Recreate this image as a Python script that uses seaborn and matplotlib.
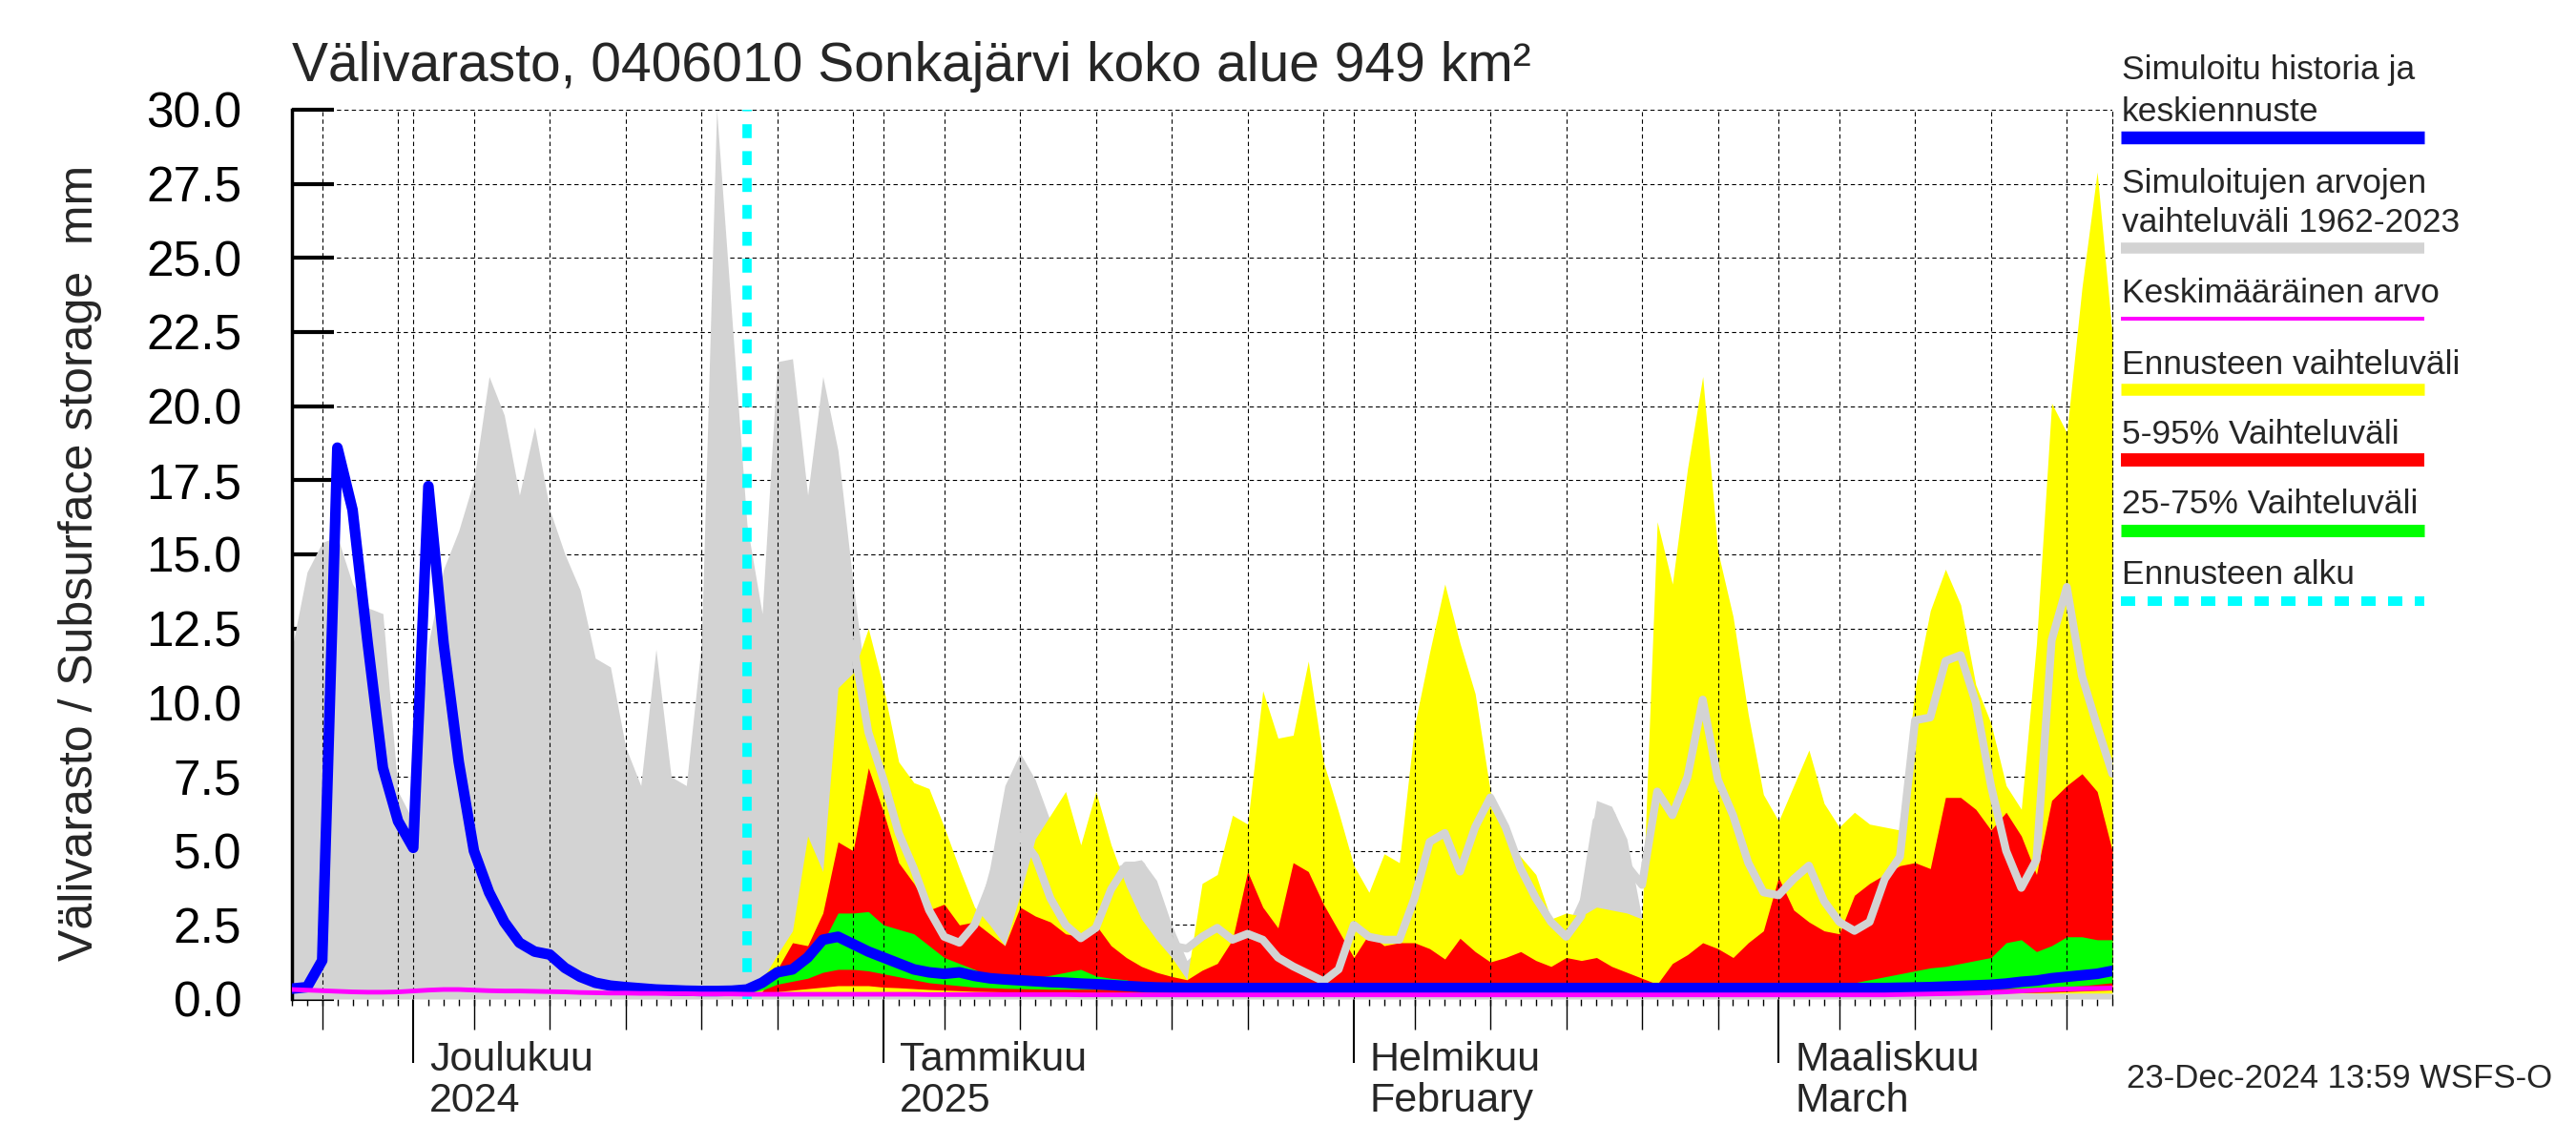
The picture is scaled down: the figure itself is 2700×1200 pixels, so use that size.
import matplotlib
matplotlib.use("Agg")
import matplotlib.pyplot as plt
import matplotlib.dates as mdates
import matplotlib.transforms as mtransforms
from matplotlib.lines import Line2D
from matplotlib.ticker import NullLocator
import numpy as np
import pandas as pd
import seaborn as sns

# daily values, 23.11.2024 - 23.3.2025
days = pd.date_range("2024-11-23", "2025-03-23", freq="D")
fc_days = days[30:]      # forecast part from 23.12.
gl_days = days[37:]

hist_max = [11.8, 14.4, 15.4, 15.6, 14.0, 13.2, 13.0, 7.0, 6.0, 12.0,
            14.5, 15.8, 17.5, 21.0, 19.7, 17.0, 19.3, 16.5, 15.0, 13.8,
            11.5, 11.2, 8.5, 7.2, 11.8, 7.5, 7.2, 12.0, 30.0, 23.0,
            16.0, 13.0, 21.5, 21.6, 17.0, 21.0, 18.5, 14.0, 10.0, 6.0,
            4.5, 3.5, 3.0, 2.5, 2.3, 2.5, 4.4, 7.2, 8.3, 7.4,
            6.0, 4.5, 3.5, 3.0, 4.4, 4.6, 4.7, 4.0, 2.5, 1.3,
            1.8, 2.0, 2.0, 2.2, 2.0, 1.8, 1.6, 1.5, 1.4, 1.3,
            1.3, 1.4, 1.5, 1.8, 2.2, 2.6, 3.0, 4.0, 6.0, 6.8,
            6.0, 4.5, 3.5, 2.6, 2.4, 3.5, 6.7, 6.5, 5.4, 2.7,
            2.5, 2.6, 2.8, 3.0, 3.2, 3.0, 2.8, 2.6, 2.5, 2.5,
            2.6, 2.5, 2.4, 2.4, 2.5, 2.6, 2.8, 3.0, 3.2, 3.4,
            3.5, 3.4, 3.2, 3.0, 3.0, 3.2, 3.5, 3.8, 4.0, 4.0, 3.8]
hist_min = 0.0

sim_median = [0.35, 0.4, 1.3, 18.6, 16.5, 12.0, 7.8, 6.0, 5.1, 17.3,
              12.0, 8.0, 5.0, 3.6, 2.6, 1.9, 1.6, 1.5, 1.05, 0.75,
              0.55, 0.45, 0.4, 0.36, 0.32, 0.3, 0.28, 0.27, 0.27, 0.28,
              0.32, 0.55, 0.9, 1.0, 1.4, 2.0, 2.1, 1.85, 1.6, 1.4,
              1.2, 1.0, 0.9, 0.85, 0.9, 0.78, 0.7, 0.66, 0.63, 0.6,
              0.57, 0.55, 0.52, 0.5, 0.47, 0.44, 0.41, 0.39, 0.38, 0.37,
              0.37, 0.37, 0.37, 0.37, 0.37, 0.37, 0.37, 0.37, 0.37, 0.37,
              0.37, 0.37, 0.37, 0.37, 0.37, 0.37, 0.37, 0.37, 0.37, 0.37,
              0.37, 0.37, 0.37, 0.37, 0.37, 0.37, 0.37, 0.37, 0.37, 0.37,
              0.37, 0.37, 0.37, 0.37, 0.37, 0.37, 0.37, 0.37, 0.37, 0.37,
              0.37, 0.37, 0.37, 0.37, 0.37, 0.37, 0.38, 0.39, 0.4, 0.42,
              0.44, 0.46, 0.48, 0.52, 0.58, 0.62, 0.7, 0.75, 0.8, 0.85, 0.95]

mean_value = [0.32, 0.3, 0.28, 0.26, 0.24, 0.23, 0.23, 0.24, 0.27, 0.3,
              0.32, 0.32, 0.3, 0.28, 0.27, 0.27, 0.26, 0.25, 0.24, 0.22,
              0.21, 0.2, 0.2, 0.19, 0.19, 0.18, 0.18, 0.17, 0.17, 0.17,
              0.16, 0.16, 0.16, 0.16, 0.16, 0.16, 0.16, 0.16, 0.16, 0.16,
              0.16, 0.16, 0.15, 0.15, 0.15, 0.15, 0.15, 0.15, 0.15, 0.15,
              0.15, 0.15, 0.14, 0.14, 0.14, 0.14, 0.14, 0.14, 0.14, 0.14,
              0.14, 0.14, 0.14, 0.14, 0.14, 0.14, 0.14, 0.14, 0.14, 0.14,
              0.14, 0.14, 0.14, 0.14, 0.14, 0.14, 0.14, 0.14, 0.14, 0.14,
              0.14, 0.14, 0.14, 0.14, 0.14, 0.14, 0.14, 0.14, 0.14, 0.14,
              0.14, 0.14, 0.14, 0.14, 0.14, 0.14, 0.14, 0.14, 0.14, 0.14,
              0.14, 0.14, 0.14, 0.14, 0.14, 0.14, 0.15, 0.16, 0.17, 0.18,
              0.19, 0.2, 0.22, 0.24, 0.27, 0.3, 0.32, 0.34, 0.35, 0.36, 0.37]

ens_max = [0.2, 0.65, 1.5, 2.3, 5.5, 4.3, 10.5, 11.0, 12.5, 10.5,
           8.0, 7.3, 7.1, 5.8, 4.4, 3.1, 2.5, 1.8, 3.5, 5.4,
           6.2, 7.0, 5.2, 7.0, 5.2, 3.8, 2.7, 2.0, 1.4, 0.65,
           3.9, 4.2, 6.2, 5.9, 10.4, 8.8, 8.9, 11.4, 8.0, 6.3,
           4.5, 3.6, 4.9, 4.6, 9.2, 11.7, 14.0, 12.0, 10.3, 7.0,
           5.5, 4.8, 4.2, 2.7, 2.9, 2.8, 3.1, 3.0, 2.9, 2.7,
           16.1, 14.0, 17.9, 21.0, 15.1, 12.9, 9.6, 6.9, 6.0, 7.2,
           8.4, 6.6, 5.8, 6.3, 5.9, 5.8, 5.7, 10.5, 13.1, 14.5,
           13.3, 10.6, 9.3, 7.2, 6.4, 12.0, 20.1, 19.1, 24.0, 27.9, 22.4]
ens_min = 0.2

p95 = [0.1, 0.25, 1.0, 1.9, 1.8, 2.9, 5.3, 5.0, 7.8, 6.3,
       4.6, 3.9, 3.0, 3.2, 2.5, 2.6, 2.2, 1.8, 3.1, 2.8,
       2.6, 2.2, 2.1, 2.5, 1.8, 1.4, 1.1, 0.9, 0.76, 0.65,
       0.97, 1.2, 2.0, 4.3, 3.1, 2.4, 4.6, 4.3, 3.2, 2.3,
       1.4, 2.2, 1.8, 1.9, 1.9, 1.7, 1.35, 2.05, 1.6, 1.25,
       1.4, 1.6, 1.3, 1.1, 1.4, 1.3, 1.4, 1.1, 0.9, 0.7,
       0.5, 1.2, 1.5, 1.9, 1.7, 1.4, 1.9, 2.3, 4.1, 3.0,
       2.6, 2.3, 2.2, 3.5, 3.9, 4.2, 4.5, 4.6, 4.4, 6.8,
       6.8, 6.4, 5.7, 6.3, 5.5, 4.2, 6.7, 7.2, 7.6, 7.0, 5.0]

p5 = [0.15, 0.2, 0.25, 0.3, 0.35, 0.4, 0.45, 0.45, 0.45, 0.4,
      0.38, 0.35, 0.32, 0.3, 0.28, 0.26, 0.25, 0.24, 0.23, 0.22,
      0.22, 0.22, 0.22, 0.22, 0.22, 0.22, 0.22, 0.22, 0.22, 0.22,
      0.22, 0.22, 0.22, 0.22, 0.22, 0.22, 0.22, 0.22, 0.22, 0.22,
      0.22, 0.22, 0.22, 0.22, 0.22, 0.22, 0.22, 0.22, 0.22, 0.22,
      0.22, 0.22, 0.22, 0.22, 0.22, 0.22, 0.22, 0.22, 0.22, 0.22,
      0.22, 0.22, 0.22, 0.22, 0.22, 0.22, 0.22, 0.22, 0.22, 0.22,
      0.22, 0.22, 0.22, 0.22, 0.22, 0.22, 0.22, 0.22, 0.22, 0.22,
      0.22, 0.22, 0.22, 0.22, 0.22, 0.22, 0.23, 0.25, 0.27, 0.29, 0.3]

p75 = [0.33, 0.6, 1.05, 1.15, 1.4, 1.9, 2.9, 2.9, 2.95, 2.5,
       2.35, 2.2, 1.8, 1.4, 1.2, 1.0, 0.76, 0.7, 0.65, 0.72,
       0.8, 0.9, 1.0, 0.78, 0.7, 0.65, 0.5, 0.45, 0.42, 0.41,
       0.41, 0.41, 0.41, 0.41, 0.41, 0.41, 0.41, 0.41, 0.41, 0.41,
       0.41, 0.41, 0.41, 0.41, 0.41, 0.41, 0.41, 0.41, 0.41, 0.41,
       0.42, 0.42, 0.42, 0.42, 0.42, 0.42, 0.42, 0.42, 0.42, 0.42,
       0.42, 0.42, 0.43, 0.43, 0.44, 0.45, 0.5, 0.55, 0.55, 0.5,
       0.48, 0.47, 0.5, 0.55, 0.65, 0.75, 0.85, 0.95, 1.05, 1.1,
       1.2, 1.3, 1.4, 1.9, 2.0, 1.6, 1.8, 2.1, 2.1, 2.0, 2.0]

p25 = [0.2, 0.3, 0.5, 0.6, 0.7, 0.9, 1.0, 1.0, 0.95, 0.85,
       0.75, 0.65, 0.55, 0.5, 0.45, 0.4, 0.38, 0.36, 0.35, 0.34,
       0.33, 0.33, 0.33, 0.33, 0.33, 0.33, 0.33, 0.33, 0.33, 0.33,
       0.33, 0.33, 0.33, 0.33, 0.33, 0.33, 0.33, 0.33, 0.33, 0.33,
       0.33, 0.33, 0.33, 0.33, 0.33, 0.33, 0.33, 0.33, 0.33, 0.33,
       0.33, 0.33, 0.33, 0.33, 0.33, 0.33, 0.33, 0.33, 0.33, 0.33,
       0.33, 0.33, 0.33, 0.33, 0.33, 0.33, 0.33, 0.33, 0.33, 0.33,
       0.33, 0.33, 0.33, 0.33, 0.33, 0.33, 0.33, 0.33, 0.33, 0.33,
       0.33, 0.33, 0.34, 0.35, 0.36, 0.38, 0.4, 0.42, 0.45, 0.5, 0.55]

gray_line = [12.0, 9.0, 7.4,
             5.6, 4.4, 3.0, 2.1, 1.9, 2.5, 3.8, 4.8, 5.5, 4.8,
             3.4, 2.5, 2.05, 2.4, 3.7, 4.5, 4.5, 3.2, 1.8, 1.7,
             2.1, 2.4, 2.0, 2.2, 2.0, 1.4, 1.1, 0.85, 0.6, 1.0,
             2.5, 2.1, 2.0, 2.0, 3.4, 5.3, 5.6, 4.3, 5.8, 6.8,
             5.8, 4.4, 3.4, 2.6, 2.1, 2.8, 6.0, 6.2, 4.5, 3.85,
             7.0, 6.2, 7.5, 10.1, 7.4, 6.2, 4.6, 3.6, 3.5, 4.05,
             4.5, 3.3, 2.6, 2.3, 2.6, 4.05, 4.8, 9.4, 9.5, 11.4,
             11.6, 10.0, 7.2, 5.0, 3.75, 4.7, 12.1, 13.9, 10.9, 9.2, 7.6]

forecast_start = pd.Timestamp("2024-12-23")

title = "Välivarasto, 0406010 Sonkajärvi koko alue 949 km²"
ylabel = "Välivarasto / Subsurface storage  mm"
month_starts = pd.to_datetime(["2024-12-01", "2025-01-01", "2025-02-01", "2025-03-01"])
month_names = ["Joulukuu", "Tammikuu", "Helmikuu", "Maaliskuu"]
month_second = ["2024", "2025", "February", "March"]
legend_labels = [["Simuloitu historia ja", "keskiennuste"],
                 ["Simuloitujen arvojen", "vaihteluväli 1962-2023"],
                 ["Keskimääräinen arvo"],
                 ["Ennusteen vaihteluväli"],
                 ["5-95% Vaihteluväli"],
                 ["25-75% Vaihteluväli"],
                 ["Ennusteen alku"]]
stamp = "23-Dec-2024 13:59 WSFS-O"

GRAY = "#d3d3d3"

sns.set_style("white")
plt.rcParams["font.family"] = ["Liberation Sans", "DejaVu Sans"]

fig = plt.figure(figsize=(27, 12), dpi=100)
ax = fig.add_axes([0.1133, 0.1275, 0.7067, 0.7767])

# bands
ax.fill_between(days, hist_min, hist_max, color=GRAY, lw=0, zorder=1)
ax.fill_between(fc_days, ens_min, ens_max, color="yellow", lw=0, zorder=1.1)
ax.fill_between(fc_days, p5, p95, color="red", lw=0, zorder=1.2)
ax.fill_between(fc_days, p25, p75, color="lime", lw=0, zorder=1.3)

# lines
sns.lineplot(x=gl_days, y=gray_line, color=GRAY, lw=6, ax=ax, zorder=3)
ax.axvline(forecast_start, color="cyan", lw=7, linestyle=(0, (1.5, 1.4)), zorder=3.5)
sns.lineplot(x=days, y=sim_median, color="blue", lw=8, ax=ax, zorder=4)
sns.lineplot(x=days, y=mean_value, color="magenta", lw=3.5, ax=ax, zorder=5)

ax.set_xlim(days[0], days[-1])
ax.set_ylim(0, 30)

# grid
dash = (0, (4, 3))
ax.set_yticks(np.arange(0, 30.01, 2.5))
ax.set_yticklabels([f"{v:.1f}" for v in np.arange(0, 30.01, 2.5)])
ax.grid(axis="y", color="black", linestyle=dash, linewidth=0.8, zorder=2.5)
ax.grid(axis="x", visible=False)
grid_dates = days[days.day.isin([1, 5, 10, 15, 20, 25, 30])]
for d in grid_dates:
    ax.axvline(d, color="black", linestyle=dash, linewidth=0.8, zorder=2.5)

# spines
for s in ["top", "bottom"]:
    ax.spines[s].set_visible(False)
ax.spines["right"].set_linestyle(dash)
ax.spines["right"].set_linewidth(0.8)
ax.spines["right"].set_color("black")
ax.spines["left"].set_linewidth(2.5)
ax.spines["left"].set_color("black")

# ticks
ax.tick_params(axis="y", direction="in", length=32, width=3, pad=38,
               labelsize=37, left=True, colors="black")
ax.xaxis.set_major_locator(mdates.MonthLocator())
ax.xaxis.set_minor_locator(mdates.DayLocator())
ax.tick_params(axis="x", which="major", direction="out", length=48, width=1.5,
               bottom=True, labelbottom=False, colors="black")
ax.tick_params(axis="x", which="minor", direction="out", length=5, width=1,
               bottom=True, colors="black")

sec = ax.secondary_xaxis("bottom")
sec.set_xticks(mdates.date2num(days[days.day.isin([5, 10, 15, 20, 25])]))
sec.xaxis.set_minor_locator(NullLocator())
sec.tick_params(axis="x", which="major", direction="out", length=23, width=1,
                labelbottom=False, colors="black")
sec.spines["bottom"].set_visible(False)

# month labels
t_name = mtransforms.offset_copy(ax.get_xaxis_transform(), fig=fig, x=17, y=-75, units="dots")
t_sub = mtransforms.offset_copy(ax.get_xaxis_transform(), fig=fig, x=17, y=-118, units="dots")
for d, name, sub in zip(month_starts, month_names, month_second):
    xd = mdates.date2num(d)
    ax.text(xd, 0, name, transform=t_name, ha="left", va="baseline", fontsize=31)
    ax.text(xd, 0, sub, transform=t_sub, ha="left", va="baseline", fontsize=31)

ax.set_ylabel(ylabel, fontsize=36)
ax.yaxis.set_label_coords(-0.104, 0.49)
ax.set_xlabel("")
ax.set_title(title, loc="left", fontsize=41, pad=21.6)

# legend at the right
H = 1200.0
leg_style = [("blue", 143.75, 9.7, "-"),
             (GRAY, 260, 8.3, "-"),
             ("magenta", 334, 2.9, "-"),
             ("yellow", 408, 9.0, "-"),
             ("red", 481.6, 10.0, "-"),
             ("lime", 555.5, 9.4, "-"),
             ("cyan", 630, 7.2, (0, (1.5, 1.3)))]
leg_base = [[83, 127], [202, 243], [316.6], [391.7], [464.8], [538], [612]]
for lines, base, (col, yb, lw, ls) in zip(legend_labels, leg_base, leg_style):
    for txt, yy in zip(lines, base):
        fig.text(0.8237, 1 - yy / H, txt, ha="left", va="baseline", fontsize=25.5)
    fig.add_artist(Line2D([0.8233, 0.9411], [1 - yb / H, 1 - yb / H],
                          transform=fig.transFigure, color=col, lw=lw,
                          linestyle=ls, solid_capstyle="butt", dash_capstyle="butt"))

fig.text(0.9907, 1 - 1140 / H, stamp, ha="right", va="baseline", fontsize=25)

fig.savefig("out.png", dpi=100)
